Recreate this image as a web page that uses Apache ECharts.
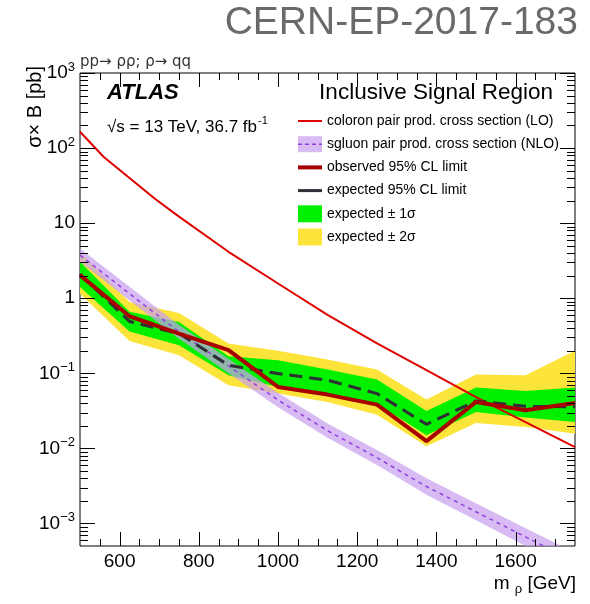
<!DOCTYPE html>
<html><head><meta charset="utf-8">
<script src="https://cdn.jsdelivr.net/npm/echarts@6/dist/echarts.min.js"></script>
<style>html,body{margin:0;padding:0;background:#fff}#c{width:590px;height:604px}</style>
</head><body><div id="c"></div>
<script>
const FONT = '"Liberation Sans", Arial, Helvetica, sans-serif';
const masses = [500, 625, 750, 875, 1000, 1125, 1250, 1375, 1500, 1625, 1750];
const observed = [2.03, 0.575, 0.338, 0.203, 0.0657, 0.052, 0.0382, 0.0125, 0.0415, 0.0321, 0.0402];
const expected = [2.1, 0.49, 0.338, 0.128, 0.099, 0.081, 0.0536, 0.0209, 0.0428, 0.0363, 0.0357];
const exp1sUp = [3.05, 0.66, 0.483, 0.169, 0.149, 0.112, 0.0824, 0.0315, 0.0645, 0.058, 0.0645];
const exp1sDown = [1.41, 0.36, 0.236, 0.094, 0.0657, 0.0536, 0.0394, 0.0149, 0.0305, 0.0257, 0.0225];
const exp2sUp = [4.1, 0.89, 0.637, 0.249, 0.199, 0.152, 0.112, 0.0446, 0.096, 0.094, 0.199];
const exp2sDown = [1.15, 0.27, 0.174, 0.069, 0.0536, 0.0415, 0.0281, 0.0107, 0.0218, 0.0192, 0.0157];
const coloronMass = [500, 560, 625, 690, 750, 875, 1000, 1125, 1250, 1375, 1500, 1625, 1750];
const coloronLO = [165, 76, 40, 21, 12.2, 4.15, 1.57, 0.6, 0.25, 0.11, 0.048, 0.0224, 0.0104];
const sgluonNLO = [3.74, 1.15, 0.356, 0.125, 0.044, 0.0172, 0.0075, 0.0031, 0.00143, 0.00066, 0.00031];
const sgluonUp = [4.6, 1.42, 0.44, 0.155, 0.055, 0.0215, 0.0095, 0.004, 0.00185, 0.00086, 0.00041];
const sgluonDown = [3.05, 0.93, 0.288, 0.1, 0.0352, 0.0138, 0.006, 0.0024, 0.0011, 0.0005, 0.00023];
const xTickLabels = [600, 800, 1000, 1200, 1400, 1600];
const yTickLabels = {'3': '10{s|3}', '2': '10{s|2}', '1': '10', '0': '1', '-1': '10{s|−1}', '-2': '10{s|−2}', '-3': '10{s|−3}'};

const legendRows = [
  {text: 'coloron pair prod. cross section (LO)', kind: 'line', color: '#e00000', width: 2},
  {text: 'sgluon pair prod. cross section (NLO)', kind: 'band'},
  {text: 'observed 95% CL limit', kind: 'line', color: '#a80000', width: 4},
  {text: 'expected 95% CL limit', kind: 'line', color: '#2f2f36', width: 3},
  {text: 'expected \u00b1 1\u03c3', kind: 'box', color: '#00f000'},
  {text: 'expected \u00b1 2\u03c3', kind: 'box', color: '#fce43a'}
];

const YELLOW = '#fce43a', GREEN = '#00f000', LAV = 'rgba(201,161,238,0.72)';

function pairs(arr, xs) { xs = xs || masses; return xs.map((m, i) => [m, arr[i]]); }

function band(name, up, down, color) {
  return {
    type: 'custom', name, silent: true, clip: true,
    data: [[masses[0], 1]],
    renderItem(params, api) {
      const pts = [];
      for (let i = 0; i < masses.length; i++) pts.push(api.coord([masses[i], up[i]]));
      for (let i = masses.length - 1; i >= 0; i--) pts.push(api.coord([masses[i], down[i]]));
      const cs = params.coordSys;
      return {type: 'group', children: [{type: 'polygon', shape: {points: pts}, style: {fill: color}}],
        clipPath: {type: 'rect', shape: {x: cs.x, y: cs.y, width: cs.width, height: cs.height}}};
    }
  };
}

// axis tick decoration positions
const xMajor = [], xMinor = [];
for (let v = 550; v < 1750; v += 50) (v % 200 === 0 ? xMajor : xMinor).push(v);
const yMajor = [], yMinor = [];
for (let e = -4; e <= 3; e++) for (let k = 1; k < 10; k++) {
  const v = k * Math.pow(10, e);
  if (v < 0.00051 || v > 1000.1) continue;
  (k === 1 ? yMajor : yMinor).push(v);
}

const ticksSeries = {
  type: 'custom', silent: true, z: 10,
  data: [[masses[0], 1]],
  renderItem(params, api) {
    const cs = params.coordSys;
    const L = cs.x, R = cs.x + cs.width, T = cs.y, B = cs.y + cs.height;
    const ch = [];
    const add = (x1, y1, x2, y2) => ch.push({type: 'line', shape: {x1, y1, x2, y2}, style: {stroke: '#000', lineWidth: 1}});
    xMajor.forEach(v => { const x = Math.round(api.coord([v, 1])[0]) + 0.5; add(x, B, x, B - 14); add(x, T, x, T + 14); });
    xMinor.forEach(v => { const x = Math.round(api.coord([v, 1])[0]) + 0.5; add(x, B, x, B - 7); add(x, T, x, T + 7); });
    yMajor.forEach(v => { const y = Math.round(api.coord([600, v])[1]) + 0.5; add(L, y, L + 15, y); add(R, y, R - 15, y); });
    yMinor.forEach(v => { const y = Math.round(api.coord([600, v])[1]) + 0.5; add(L, y, L + 8, y); add(R, y, R - 8, y); });
    return {type: 'group', children: ch};
  }
};

const graphics = [];
// header texts
graphics.push({type: 'text', x: 578, y: 23, style: {text: 'CERN-EP-2017-183', font: '39px ' + FONT, fill: '#6a6a6a', textAlign: 'right', textVerticalAlign: 'middle'}});
graphics.push({type: 'text', x: 80, y: 62, style: {text: 'pp\u2192 \u03c1\u03c1; \u03c1\u2192 qq', font: '15px "DejaVu Sans", ' + FONT, fill: '#333', textAlign: 'left', textVerticalAlign: 'middle'}});
graphics.push({type: 'text', x: 107, y: 93, style: {text: 'ATLAS', font: 'italic bold 22px ' + FONT, fill: '#000', textAlign: 'left', textVerticalAlign: 'middle'}});
graphics.push({type: 'text', x: 553, y: 93, style: {text: 'Inclusive Signal Region', font: '22.5px ' + FONT, fill: '#000', textAlign: 'right', textVerticalAlign: 'middle'}});
graphics.push({type: 'text', x: 107, y: 127, style: {text: '{a|\u221as = 13 TeV, 36.7 fb}{b|-1}', textAlign: 'left', textVerticalAlign: 'middle',
  rich: {a: {font: '17px ' + FONT, fill: '#000'}, b: {font: '11px ' + FONT, fill: '#000', padding: [0, 0, 12, 1]}}}});
// axis titles
graphics.push({type: 'text', x: 35, y: 66, rotation: Math.PI / 2, style: {text: '\u03c3\u00d7 B [pb]', font: '20px ' + FONT, fill: '#000', textAlign: 'right', textVerticalAlign: 'middle'}});
graphics.push({type: 'text', x: 576, y: 584, style: {text: '{a|m }{s|\u03c1}{a| [GeV]}', textAlign: 'right', textVerticalAlign: 'middle',
  rich: {a: {font: '19px ' + FONT, fill: '#000'}, s: {font: '13px ' + FONT, fill: '#000', padding: [10, 0, 0, 0]}}}});
// legend
const rowY0 = 121, rowDy = 23.2, symX = 298, symW = 24, txtX = 327;
legendRows.forEach((r, i) => {
  const y = rowY0 + i * rowDy;
  if (r.kind === 'line') {
    graphics.push({type: 'line', shape: {x1: symX, y1: y, x2: symX + symW, y2: y}, style: {stroke: r.color, lineWidth: r.width}});
  } else if (r.kind === 'band') {
    graphics.push({type: 'rect', shape: {x: symX, y: y - 8, width: symW, height: 16}, style: {fill: LAV}});
    graphics.push({type: 'line', shape: {x1: symX, y1: y, x2: symX + symW, y2: y}, style: {stroke: '#9040e0', lineWidth: 1.5, lineDash: [4, 3]}});
  } else {
    graphics.push({type: 'rect', shape: {x: symX, y: y - 8.5, width: symW, height: 17}, style: {fill: r.color}});
  }
  graphics.push({type: 'text', x: txtX, y: y, style: {text: r.text, font: '14px ' + FONT, fill: '#000', textAlign: 'left', textVerticalAlign: 'middle'}});
});

const chart = echarts.init(document.getElementById('c'), null, {renderer: 'canvas'});
chart.setOption({
  backgroundColor: '#fff',
  animation: false,
  grid: {left: 80, right: 15, top: 73, bottom: 58, show: true, borderColor: '#000', borderWidth: 1, backgroundColor: 'transparent'},
  xAxis: {
    type: 'value', min: 500, max: 1750, interval: 100,
    axisLine: {show: false}, axisTick: {show: false}, splitLine: {show: false},
    axisLabel: {margin: 6, color: '#000', fontFamily: FONT, fontSize: 19,
      formatter: v => xTickLabels.indexOf(v) >= 0 ? String(v) : ''}
  },
  yAxis: {
    type: 'log', logBase: 10, min: 0.0005, max: 1000, splitNumber: 7,
    axisLine: {show: false}, axisTick: {show: false}, splitLine: {show: false},
    axisLabel: {margin: 5, color: '#000', fontFamily: FONT, fontSize: 19,
      formatter: v => {
        const e = Math.round(Math.log10(v));
        if (Math.abs(v - Math.pow(10, e)) / Math.pow(10, e) > 1e-6) return '';
        return yTickLabels[String(e)] || '';
      },
      rich: {s: {fontFamily: FONT, fontSize: 13, color: '#000', padding: [0, 0, 12, 0]}}
    }
  },
  graphic: {elements: graphics},
  series: [
    band('expected \u00b1 2\u03c3', exp2sUp, exp2sDown, YELLOW),
    band('expected \u00b1 1\u03c3', exp1sUp, exp1sDown, GREEN),
    band('sgluon band', sgluonUp, sgluonDown, LAV),
    {type: 'line', name: 'sgluon pair prod. cross section (NLO)', data: pairs(sgluonNLO), symbol: 'none', clip: true,
      lineStyle: {color: '#9040e0', width: 1.5, type: [4, 4]}},
    {type: 'line', name: 'coloron pair prod. cross section (LO)', data: pairs(coloronLO, coloronMass), symbol: 'none', clip: true,
      lineStyle: {color: '#e00000', width: 2}},
    {type: 'line', name: 'expected 95% CL limit', data: pairs(expected), symbol: 'none', clip: true,
      lineStyle: {color: '#2f2f36', width: 3, type: [13, 7]}},
    {type: 'line', name: 'observed 95% CL limit', data: pairs(observed), symbol: 'none', clip: true,
      lineStyle: {color: '#a80000', width: 4}},
    ticksSeries
  ]
});
</script>
</body></html>
